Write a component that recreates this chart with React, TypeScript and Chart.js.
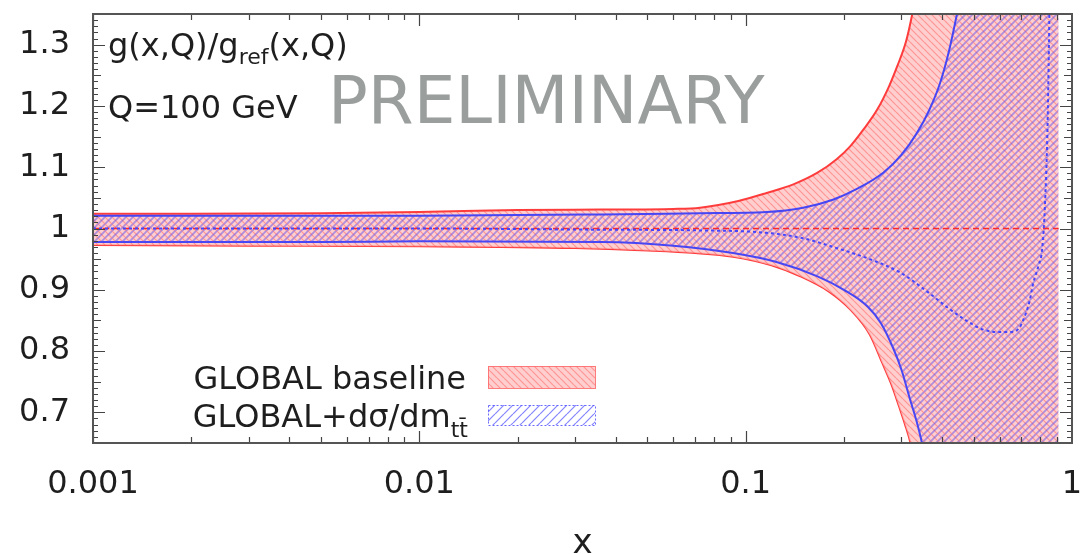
import React, { useEffect, useRef } from 'react';
import { Chart, registerables } from 'chart.js';
Chart.register(...registerables);

const FONT = '"DejaVu Sans", "Liberation Sans", sans-serif';

// Axis ticks
const xTickValues = [0.001, 0.01, 0.1, 1];
const xTickLabels = ['0.001', '0.01', '0.1', '1'];
const yTickValues = [0.7, 0.8, 0.9, 1.0, 1.1, 1.2, 1.3];
const yTickLabels = ['0.7', '0.8', '0.9', '1', '1.1', '1.2', '1.3'];

// GLOBAL baseline band
const redUpperX = [0.001, 0.002, 0.005, 0.01, 0.02, 0.036, 0.06, 0.0725, 0.095, 0.116, 0.14, 0.166, 0.19, 0.209, 0.23, 0.253, 0.275, 0.291, 0.31, 0.324, 0.345, 0.37, 0.42, 0.5, 0.91];
const redUpperY = [1.024, 1.024, 1.025, 1.027, 1.03, 1.031, 1.032, 1.034, 1.045, 1.058, 1.072, 1.091, 1.113, 1.134, 1.162, 1.194, 1.232, 1.264, 1.305, 1.35, 1.43, 1.56, 1.9, 2.5, 3.0];
const redLowerX = [0.001, 0.003, 0.01, 0.03, 0.05, 0.07, 0.0915, 0.12, 0.147, 0.18, 0.209, 0.24, 0.262, 0.28, 0.295, 0.308, 0.32, 0.34, 0.37, 0.42, 0.5, 0.91];
const redLowerY = [0.973, 0.972, 0.971, 0.968, 0.964, 0.96, 0.954, 0.94, 0.922, 0.897, 0.868, 0.827, 0.781, 0.745, 0.71, 0.68, 0.65, 0.58, 0.47, 0.3, 0.0, -0.5];
const redCentralX = [0.001, 0.91];
const redCentralY = [1.0, 1.0];

// GLOBAL + dsigma/dm_tt band
const blueUpperX = [0.001, 0.005, 0.01, 0.036, 0.0725, 0.116, 0.15, 0.185, 0.22, 0.264, 0.3, 0.335, 0.365, 0.394, 0.42, 0.444, 0.47, 0.5, 0.6, 0.91];
const blueUpperY = [1.021, 1.021, 1.021, 1.023, 1.025, 1.027, 1.034, 1.047, 1.065, 1.091, 1.12, 1.156, 1.193, 1.237, 1.29, 1.35, 1.42, 1.52, 2.0, 3.0];
const blueLowerX = [0.001, 0.005, 0.01, 0.036, 0.06, 0.0915, 0.125, 0.166, 0.2, 0.236, 0.26, 0.283, 0.3, 0.319, 0.335, 0.347, 0.37, 0.42, 0.5, 0.91];
const blueLowerY = [0.978, 0.978, 0.979, 0.978, 0.972, 0.96, 0.945, 0.922, 0.9, 0.873, 0.845, 0.805, 0.77, 0.721, 0.683, 0.65, 0.58, 0.4, 0.1, -0.5];
const blueCentralX = [0.001, 0.01, 0.036, 0.07, 0.116, 0.15, 0.185, 0.24, 0.298, 0.36, 0.423, 0.48, 0.534, 0.6, 0.646, 0.69, 0.708, 0.74, 0.76, 0.79, 0.81, 0.826, 0.84, 0.85, 0.855];
const blueCentralY = [1.0, 1.0, 0.998, 0.997, 0.993, 0.984, 0.97, 0.95, 0.928, 0.897, 0.868, 0.848, 0.835, 0.831, 0.831, 0.838, 0.85, 0.88, 0.91, 0.94, 0.966, 1.036, 1.15, 1.3, 1.4];

const pts = (xs: number[], ys: number[]) => xs.map((x, i) => ({ x, y: ys[i] }));

function makeHatch(ctx: CanvasRenderingContext2D, size: number, dir: string, color: string, lw: number, bg?: string) {
  const c = document.createElement('canvas');
  c.width = size; c.height = size;
  const g = c.getContext('2d')!;
  if (bg) { g.fillStyle = bg; g.fillRect(0, 0, size, size); }
  g.strokeStyle = color; g.lineWidth = lw;
  g.beginPath();
  for (let k = -1; k <= 1; k++) {
    if (dir === '/') { g.moveTo(k * size, size); g.lineTo(k * size + size, 0); }
    else { g.moveTo(k * size, 0); g.lineTo(k * size + size, size); }
  }
  g.stroke();
  return ctx.createPattern(c, 'repeat')!;
}

export default function App() {
  const ref = useRef<HTMLCanvasElement | null>(null);
  useEffect(() => {
    const canvas = ref.current!;
    const ctx0 = canvas.getContext('2d')!;
    const redPat = makeHatch(ctx0, 7, '\\', 'rgba(255,90,90,0.5)', 1.2, 'rgba(255,195,195,0.8)');
    const bluePat = makeHatch(ctx0, 7, '/', 'rgba(95,80,235,0.5)', 1.8);
    const bluePatLegend = makeHatch(ctx0, 9, '/', 'rgba(90,90,255,0.75)', 1.2);

    const decor = {
      id: 'decor',
      afterDatasetsDraw(chart: any) {
        const { ctx, chartArea: a, scales } = chart;
        const xs = scales.x, ys = scales.y;
        ctx.save();
        ctx.strokeStyle = '#444';
        ctx.lineWidth = 1.2;
        ctx.beginPath();
        for (let d = -3; d <= -1; d++) {
          for (let m = 1; m <= 9; m++) {
            const v = m * Math.pow(10, d);
            const px = Math.round(xs.getPixelForValue(v)) + 0.5;
            const len = m === 1 ? 12 : 6;
            ctx.moveTo(px, a.bottom); ctx.lineTo(px, a.bottom - len);
            ctx.moveTo(px, a.top); ctx.lineTo(px, a.top + len);
          }
        }
        for (let i = 65; i <= 135; i++) {
          const v = i / 100;
          const py = Math.round(ys.getPixelForValue(v)) + 0.5;
          const len = i % 10 === 0 ? 12 : i % 5 === 0 ? 8 : 5;
          ctx.moveTo(a.left, py); ctx.lineTo(a.left + len, py);
          ctx.moveTo(a.right, py); ctx.lineTo(a.right - len, py);
        }
        ctx.stroke();
        ctx.lineWidth = 2;
        ctx.strokeStyle = '#555';
        ctx.strokeRect(a.left, a.top, a.right - a.left, a.bottom - a.top);
        ctx.restore();
      },
      afterDraw(chart: any) {
        const { ctx } = chart;
        ctx.save();
        ctx.fillStyle = '#1e1e1e';
        ctx.textBaseline = 'alphabetic';
        ctx.textAlign = 'left';
        const big = `32px ${FONT}`;
        const small = `22px ${FONT}`;
        let x = 108;
        ctx.font = big; ctx.fillText('g(x,Q)/g', x, 56); x += ctx.measureText('g(x,Q)/g').width;
        ctx.font = small; ctx.fillText('ref', x, 64); x += ctx.measureText('ref').width;
        ctx.font = big; ctx.fillText('(x,Q)', x, 56);
        ctx.fillText('Q=100 GeV', 108, 118);
        ctx.font = `66px ${FONT}`;
        ctx.fillStyle = '#9a9e9c';
        ctx.fillText('PRELIMINARY', 328, 123);
        ctx.fillStyle = '#1e1e1e';
        ctx.font = big;
        ctx.textAlign = 'right';
        ctx.fillText('GLOBAL baseline', 466, 389);
        ctx.font = small;
        const subW = ctx.measureText('tt\u0304').width;
        ctx.textAlign = 'left';
        ctx.fillText('tt\u0304', 468 - subW, 437);
        ctx.font = big;
        ctx.textAlign = 'right';
        ctx.fillText('GLOBAL+d\u03c3/dm', 468 - subW, 427);
        ctx.fillStyle = redPat;
        ctx.fillRect(488, 366, 107, 22);
        ctx.strokeStyle = 'rgba(255,110,110,0.9)';
        ctx.lineWidth = 1;
        ctx.strokeRect(488.5, 366.5, 107, 22);
        ctx.fillStyle = bluePatLegend;
        ctx.fillRect(488, 405, 107, 20);
        ctx.setLineDash([2, 2]);
        ctx.strokeStyle = 'rgba(90,90,255,0.9)';
        ctx.strokeRect(488.5, 405.5, 107, 20);
        ctx.restore();
      },
    };

    const chart = new Chart(canvas, {
      type: 'line',
      data: {
        datasets: [
          { label: 'red lower', data: pts(redLowerX, redLowerY), borderColor: 'rgb(255,60,60)', borderWidth: 2, pointRadius: 0, fill: false, order: 6, cubicInterpolationMode: 'monotone' },
          { label: 'GLOBAL baseline', data: pts(redUpperX, redUpperY), borderColor: 'rgb(255,60,60)', borderWidth: 2, pointRadius: 0, fill: '-1', backgroundColor: redPat, order: 5, cubicInterpolationMode: 'monotone' },
          { label: 'blue lower', data: pts(blueLowerX, blueLowerY), borderColor: 'rgb(70,70,245)', borderWidth: 2, pointRadius: 0, fill: false, order: 4, cubicInterpolationMode: 'monotone' },
          { label: 'GLOBAL+dsigma/dm', data: pts(blueUpperX, blueUpperY), borderColor: 'rgb(70,70,245)', borderWidth: 2, pointRadius: 0, fill: '-1', backgroundColor: bluePat, order: 3, cubicInterpolationMode: 'monotone' },
          { label: 'red central', data: pts(redCentralX, redCentralY), borderColor: 'rgb(255,40,40)', borderWidth: 1.6, borderDash: [6, 4], pointRadius: 0, fill: false, order: 2 },
          { label: 'blue central', data: pts(blueCentralX, blueCentralY), borderColor: 'rgb(70,70,255)', borderWidth: 2, borderDash: [3, 3], pointRadius: 0, fill: false, order: 1, cubicInterpolationMode: 'monotone' },
        ],
      },
      options: {
        animation: false,
        responsive: false,
        maintainAspectRatio: false,
        layout: { padding: { top: 14, right: 9, left: 0, bottom: 0 } },
        plugins: { legend: { display: false }, tooltip: { enabled: false }, title: { display: false } },
        scales: {
          x: {
            type: 'logarithmic',
            min: 0.001,
            max: 1,
            grid: { display: false, drawTicks: false },
            border: { display: false },
            afterBuildTicks: (s: any) => { s.ticks = xTickValues.map((v) => ({ value: v })); },
            afterFit: (s: any) => { s.height = 111; s.paddingLeft = 0; s.paddingRight = 0; },
            ticks: {
              autoSkip: false,
              maxRotation: 0,
              padding: 22,
              color: '#1e1e1e',
              font: { family: FONT, size: 32 },
              callback: (v: any) => { const i = xTickValues.indexOf(Number(v)); return i >= 0 ? xTickLabels[i] : ''; },
            },
            title: { display: true, text: 'x', color: '#1e1e1e', font: { family: FONT, size: 34, lineHeight: 0.6 }, padding: { top: 0, bottom: 0 } },
          },
          y: {
            type: 'linear',
            min: 0.65,
            max: 1.35,
            grid: { display: false, drawTicks: false },
            border: { display: false },
            afterBuildTicks: (s: any) => { s.ticks = yTickValues.map((v) => ({ value: v })); },
            afterFit: (s: any) => { s.width = 93; s.paddingTop = 0; s.paddingBottom = 0; },
            ticks: {
              autoSkip: false,
              padding: 23,
              color: '#1e1e1e',
              font: { family: FONT, size: 32 },
              callback: (v: any) => { const i = yTickValues.findIndex((t) => Math.abs(t - Number(v)) < 1e-6); return i >= 0 ? yTickLabels[i] : ''; },
            },
          },
        },
      },
      plugins: [decor],
    } as any);
    return () => chart.destroy();
  }, []);
  return (
    <div style={{ position: 'fixed', left: 0, top: 0, width: 1081, height: 554, background: '#fff', overflow: 'hidden' }}>
      <canvas ref={ref} width={1081} height={554} style={{ display: 'block' }} />
    </div>
  );
}
